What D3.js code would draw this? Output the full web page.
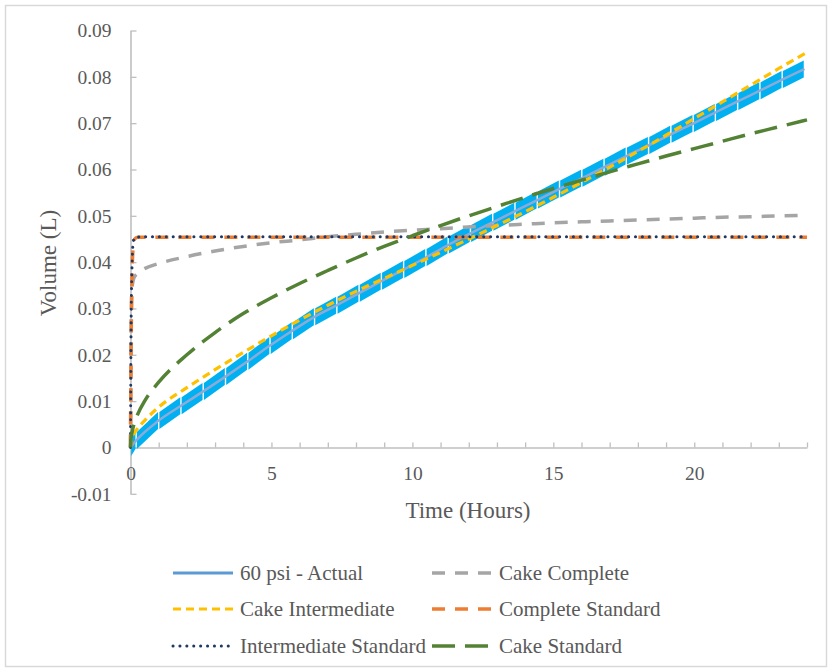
<!DOCTYPE html>
<html>
<head>
<meta charset="utf-8">
<script src="https://cdn.jsdelivr.net/npm/d3@7"></script>
<style>
  html, body { margin: 0; padding: 0; background: #ffffff; }
  svg { display: block; }
  text { font-family: "Liberation Serif", "Times New Roman", serif; fill: #595959; }
</style>
</head>
<body>
<svg id="chart" width="832" height="672"></svg>
<script>
// ---------- DATA ----------
const actualTime = [0, 0.2, 1.0, 1.79, 2.58, 3.37, 4.16, 4.95, 5.74, 6.53, 7.32, 8.11, 8.9, 9.69,
  10.48, 11.27, 12.06, 12.85, 13.64, 14.43, 15.22, 16.01, 16.8, 17.59, 18.38, 19.17, 19.96,
  20.75, 21.54, 22.33, 23.12, 23.91];
const actualVolume = [0, 0.0015, 0.0058, 0.0090, 0.0121, 0.0153, 0.0186, 0.0220, 0.0252, 0.0282,
  0.0307, 0.0333, 0.0359, 0.0384, 0.0410, 0.0437, 0.0462, 0.0486, 0.0510, 0.0534, 0.0558,
  0.0581, 0.0605, 0.0629, 0.0652, 0.0676, 0.0699, 0.0723, 0.0747, 0.0770, 0.0794, 0.0817];

const modelTime = [0, 0.02, 0.05, 0.1, 0.15, 0.25, 0.5, 1, 2, 3, 4, 5, 6, 7, 8, 9, 10, 11, 12,
  13, 14, 15, 16, 17, 18, 19, 20, 21, 22, 23, 24];
const cakeComplete = [0, 0.022, 0.034, 0.0362, 0.0369, 0.0376, 0.0386, 0.0397, 0.0412, 0.0424,
  0.0434, 0.0442, 0.0448, 0.0455, 0.0460, 0.0465, 0.0469, 0.0472, 0.0476, 0.0479, 0.0482,
  0.0485, 0.0487, 0.0489, 0.0491, 0.0493, 0.0495, 0.0497, 0.0498, 0.0500, 0.0501];
const cakeIntermediate = [0, 0.0012, 0.0019, 0.0026, 0.0032, 0.0041, 0.0058, 0.0087, 0.0129,
  0.0168, 0.0205, 0.0241, 0.0275, 0.0307, 0.0337, 0.0365, 0.0393, 0.0421, 0.0450, 0.0479,
  0.0509, 0.0540, 0.0572, 0.0605, 0.0639, 0.0674, 0.0710, 0.0746, 0.0782, 0.0818, 0.0853];
const completeStandard = [0, 0.020, 0.036, 0.0436, 0.0450, 0.0454, 0.0454, 0.0454, 0.0454,
  0.0454, 0.0454, 0.0454, 0.0454, 0.0454, 0.0454, 0.0454, 0.0454, 0.0454, 0.0454, 0.0454,
  0.0454, 0.0454, 0.0454, 0.0454, 0.0454, 0.0454, 0.0454, 0.0454, 0.0454, 0.0454, 0.0454];
const intermediateStandard = [0, 0.025, 0.038, 0.0445, 0.0452, 0.0454, 0.0455, 0.0455, 0.0455,
  0.0455, 0.0455, 0.0455, 0.0455, 0.0455, 0.0455, 0.0455, 0.0455, 0.0455, 0.0455, 0.0455,
  0.0455, 0.0455, 0.0455, 0.0455, 0.0455, 0.0455, 0.0455, 0.0455, 0.0455, 0.0455, 0.0455];
const cakeStandard = [0, 0.0020, 0.0032, 0.0045, 0.0055, 0.0071, 0.0100, 0.0141, 0.0200,
  0.0248, 0.0289, 0.0323, 0.0354, 0.0382, 0.0409, 0.0434, 0.0457, 0.0479, 0.0500, 0.0520,
  0.0540, 0.0559, 0.0577, 0.0595, 0.0612, 0.0629, 0.0645, 0.0661, 0.0677, 0.0692, 0.0707];

const xTicks = d3.range(0, 25, 1);
const xTickLabels = [0, 5, 10, 15, 20];
const yTicks = [-0.01, 0, 0.01, 0.02, 0.03, 0.04, 0.05, 0.06, 0.07, 0.08, 0.09];
const yTickLabels = ["-0.01", "0", "0.01", "0.02", "0.03", "0.04", "0.05", "0.06", "0.07", "0.08", "0.09"];
const xTitle = "Time (Hours)";
const yTitle = "Volume (L)";
const seriesNames = ["60 psi - Actual", "Cake Complete", "Cake Intermediate",
  "Complete Standard", "Intermediate Standard", "Cake Standard"];

// ---------- LAYOUT ----------
const svg = d3.select("#chart");
svg.append("rect").attr("x", 5.5).attr("y", 5.5).attr("width", 821).attr("height", 661)
  .attr("fill", "#ffffff").attr("stroke", "#d9d9d9").attr("stroke-width", 1.5);

const x = d3.scaleLinear().domain([0, 24]).range([130.5, 807]);
const y = d3.scaleLinear().domain([-0.01, 0.09]).range([493.8, 30.5]);

const styles = {
  "60 psi - Actual": { color: "#5B9BD5", width: 3, dash: null, cap: "butt" },
  "Cake Complete": { color: "#A5A5A5", width: 3.5, dash: "13,10", cap: "butt" },
  "Cake Intermediate": { color: "#FFC000", width: 3.2, dash: "8,5", cap: "butt" },
  "Complete Standard": { color: "#ED7D31", width: 3.5, dash: "13,10", cap: "butt" },
  "Intermediate Standard": { color: "#1F3864", width: 3, dash: "0.1,6.8", cap: "round" },
  "Cake Standard": { color: "#548235", width: 3.5, dash: "23,10", cap: "butt" }
};

// ---------- AXES ----------
const yAxis = d3.axisLeft(y).tickValues(yTicks).tickSizeInner(-6).tickSizeOuter(0).tickPadding(19)
  .tickFormat((d, i) => yTickLabels[i]);
const gy = svg.append("g").attr("transform", `translate(${x(0)},0)`).call(yAxis);
gy.select(".domain").attr("stroke", "#BFBFBF").attr("stroke-width", 1.6);
gy.selectAll(".tick line").attr("stroke", "#BFBFBF").attr("stroke-width", 1.3);
gy.selectAll(".tick text").style("font-size", "19.5px").attr("fill", "#595959")
  .style("font-family", "'Liberation Serif', serif");

const xAxis = d3.axisBottom(x).tickValues(xTicks).tickSizeInner(-5).tickSizeOuter(0).tickPadding(19)
  .tickFormat(d => xTickLabels.includes(d) ? String(d) : "");
const gx = svg.append("g").attr("transform", `translate(0,${y(0)})`).call(xAxis);
gx.select(".domain").attr("stroke", "#BFBFBF").attr("stroke-width", 1.6);
gx.selectAll(".tick line").attr("stroke", "#BFBFBF").attr("stroke-width", 1.3);
gx.selectAll(".tick text").style("font-size", "19.5px").attr("fill", "#595959")
  .style("font-family", "'Liberation Serif', serif");

svg.append("text").attr("x", 468).attr("y", 518).attr("text-anchor", "middle")
  .style("font-size", "23px").text(xTitle);
svg.append("text").attr("transform", "translate(56,263) rotate(-90)").attr("text-anchor", "middle")
  .style("font-size", "23px").text(yTitle);

// ---------- SERIES ----------
const plot = svg.append("g");

// actual: cyan marker band with white seams, thin line on top
const band = plot.append("g");
const hh = 8.5, gap = 0.7;
for (let i = 0; i < actualTime.length - 1; i++) {
  const x0 = x(actualTime[i]), x1 = x(actualTime[i + 1]);
  const y0 = y(actualVolume[i]), y1 = y(actualVolume[i + 1]);
  const pts = [[x0 + gap, y0 - hh], [x1 - gap, y1 - hh], [x1 - gap, y1 + hh], [x0 + gap, y0 + hh]];
  band.append("polygon").attr("points", pts.map(p => p.join(",")).join(" "))
    .attr("fill", "#00B0F0");
}
const lineA = d3.line().x((d, i) => x(actualTime[i])).y(d => y(d)).curve(d3.curveMonotoneX);
plot.append("path").datum(actualVolume).attr("d", lineA).attr("fill", "none")
  .attr("stroke", "#8CAAD8").attr("stroke-width", 2.5);

const lineM = d3.line().x((d, i) => x(modelTime[i])).y(d => y(d)).curve(d3.curveMonotoneX);
const modelSeries = [
  ["Cake Complete", cakeComplete],
  ["Cake Intermediate", cakeIntermediate],
  ["Complete Standard", completeStandard],
  ["Intermediate Standard", intermediateStandard],
  ["Cake Standard", cakeStandard]
];
modelSeries.forEach(([name, vals]) => {
  const s = styles[name];
  plot.append("path").datum(vals).attr("d", lineM).attr("fill", "none")
    .attr("stroke", s.color).attr("stroke-width", s.width)
    .attr("stroke-dasharray", s.dash).attr("stroke-linecap", s.cap);
});

// ---------- LEGEND ----------
const legendPos = [
  [173, 573], [432, 573],
  [173, 609], [432, 609],
  [173, 646], [432, 646]
];
seriesNames.forEach((name, i) => {
  const [lx, ly] = legendPos[i];
  const s = styles[name];
  svg.append("line").attr("x1", lx).attr("x2", lx + 60).attr("y1", ly).attr("y2", ly)
    .attr("stroke", s.color).attr("stroke-width", s.width)
    .attr("stroke-dasharray", s.dash).attr("stroke-linecap", s.cap);
  svg.append("text").attr("x", lx + 67).attr("y", ly + 7)
    .style("font-size", "21px").text(name);
});
</script>
</body>
</html>
